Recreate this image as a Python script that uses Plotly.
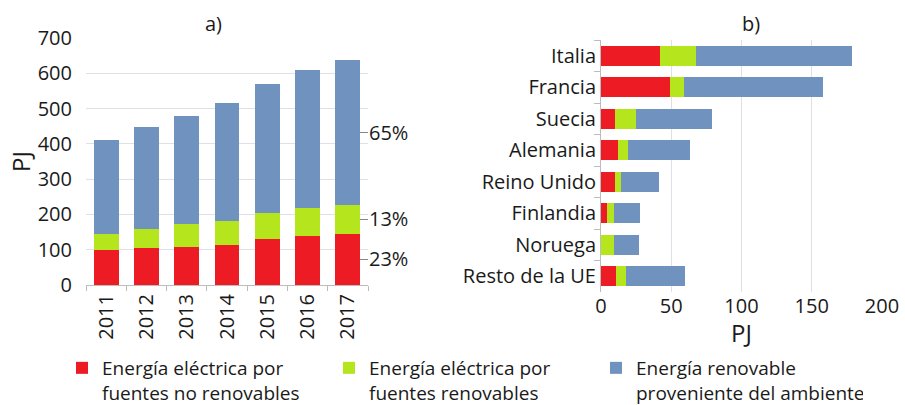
import plotly.graph_objects as go

# ---- data ----
years = ["2011", "2012", "2013", "2014", "2015", "2016", "2017"]
a_no_renov = [100, 104, 108, 112, 129, 139, 145]
a_renov = [45, 55, 65, 68, 74, 78, 82]
a_ambiente = [266, 290, 307, 337, 366, 392, 410]
pct_labels = ["23%", "13%", "65%"]

countries = ["Italia", "Francia", "Suecia", "Alemania", "Reino Unido",
             "Finlandia", "Noruega", "Resto de la UE"]
b_no_renov = [42, 49, 10, 12, 10, 4.5, 0, 11]
b_renov = [25.5, 10, 15, 7, 4.5, 5, 9, 7]
b_ambiente = [111, 99, 54, 44.5, 27, 18.5, 18, 42]

names = ["Energía eléctrica por<br>fuentes no renovables",
         "Energía eléctrica por<br>fuentes renovables",
         "Energía renovable<br>proveniente del ambiente"]
colors = ["#ED1C24", "#B5E61D", "#7092BE"]

W, H = 905, 405
FONT = "'Open Sans', Lato, sans-serif"
TXT = "#1a1a1a"
GRID = "#dde1e7"
AXL = "#bcbcbc"

def px(x):
    return x / W

def py(y):
    return 1 - y / H

fig = go.Figure()

for vals, nm, col in zip([a_no_renov, a_renov, a_ambiente], names, colors):
    fig.add_trace(go.Bar(x=years, y=vals, name=nm, marker_color=col,
                         marker_line_width=0, xaxis="x", yaxis="y",
                         showlegend=True))

for vals, nm, col in zip([b_no_renov, b_renov, b_ambiente], names, colors):
    fig.add_trace(go.Bar(y=countries, x=vals, name=nm, orientation="h",
                         marker_color=col, marker_line_width=0,
                         xaxis="x2", yaxis="y2", showlegend=False))

# percentage marks at segment midpoints of the last year
r, g, b = a_no_renov[-1], a_renov[-1], a_ambiente[-1]
pct_pos = [r / 2, r + g / 2, r + g + b / 2]
fig.add_trace(go.Scatter(x=[years[-1]], y=[0], xaxis="x", yaxis="y3",
                         mode="markers", marker_opacity=0, showlegend=False,
                         hoverinfo="skip"))

fig.update_layout(
    width=W, height=H,
    margin=dict(l=0, r=0, t=0, b=0, autoexpand=False),
    paper_bgcolor="white", plot_bgcolor="white",
    barmode="stack", bargap=0.38,
    font=dict(family=FONT, size=20, color=TXT),
    xaxis=dict(domain=[px(86), px(368)], anchor="y", automargin=False,
               showline=True, linecolor=AXL, linewidth=1,
               ticks="outside", tickson="boundaries", ticklen=5,
               tickcolor=AXL, tickangle=-90, showgrid=False),
    yaxis=dict(domain=[py(285), py(38)], anchor="x", range=[0, 700],
               automargin=False,
               dtick=100, showgrid=True, gridcolor=GRID, zeroline=False,
               showline=False, ticks="", ticklabelstandoff=13,
               title=dict(text="PJ", standoff=0)),
    yaxis3=dict(overlaying="y", anchor="x", side="right", range=[0, 700],
                automargin=False,
                tickvals=pct_pos, ticktext=pct_labels, ticks="inside",
                ticklen=8, tickcolor="#888888", showgrid=False,
                zeroline=False, showline=False),
    xaxis2=dict(domain=[px(601), px(882)], anchor="y2", range=[0, 200],
                automargin=False,
                dtick=50, showgrid=True, gridcolor=GRID, zeroline=False,
                showline=False, ticks="",
                title=dict(text="PJ", standoff=2)),
    yaxis2=dict(domain=[py(292), py(40)], anchor="x2", automargin=False,
                categoryorder="array", categoryarray=countries,
                autorange="reversed",
                showline=True, linecolor=AXL, linewidth=1,
                ticks="outside", tickson="boundaries", ticklen=6,
                tickcolor=AXL, showgrid=False),
    legend=dict(orientation="h", xref="container", yref="container",
                x=px(62), y=py(349), xanchor="left",
                yanchor="top", entrywidth=222, valign="top",
                traceorder="normal", font=dict(size=19),
                maxheight=200, bgcolor="rgba(0,0,0,0)"),
    annotations=[
        dict(text="a)", x=px(213), y=py(24), xref="paper", yref="paper",
             xanchor="center", yanchor="middle",
             showarrow=False, font=dict(size=20)),
        dict(text="b)", x=px(751), y=py(23), xref="paper", yref="paper",
             xanchor="center", yanchor="middle",
             showarrow=False, font=dict(size=20)),
    ],
)

fig.write_html("out.html",
               config={"displayModeBar": False},
               post_script="document.body.style.margin='0';"
                           "document.body.style.overflow='hidden';")
